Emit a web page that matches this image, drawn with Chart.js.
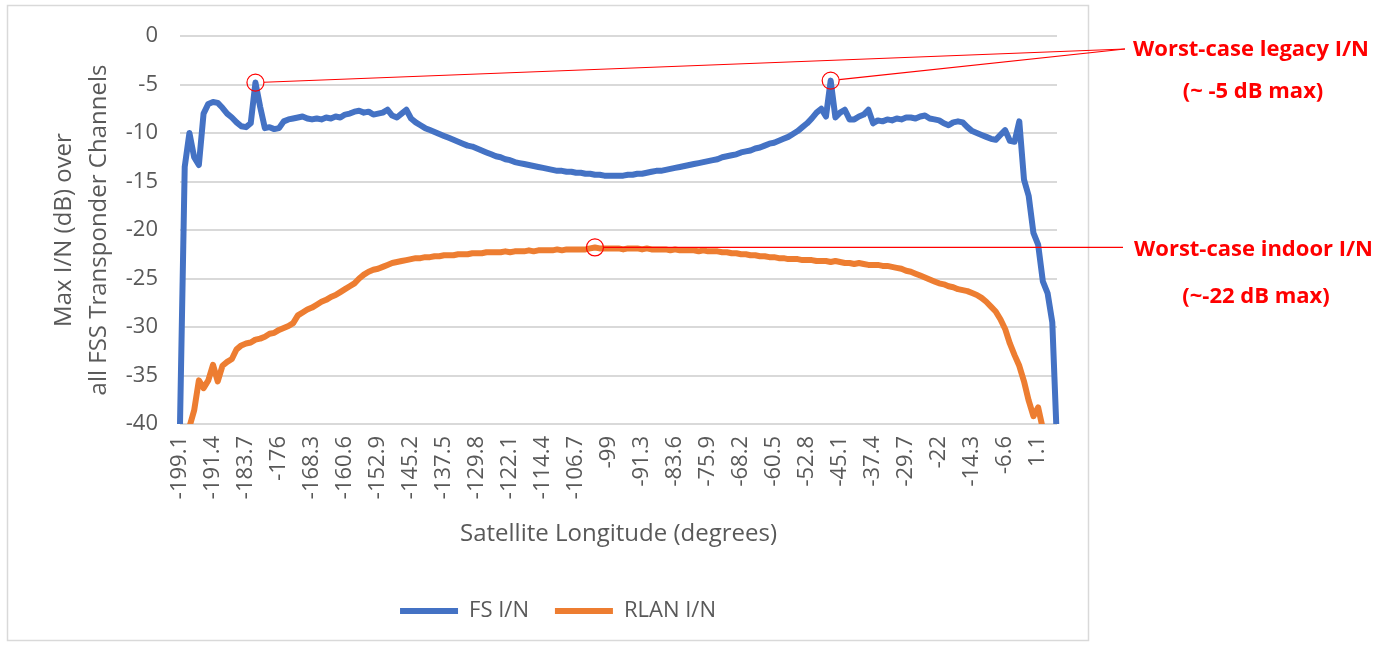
<!DOCTYPE html>
<html>
<head>
<meta charset="utf-8">
<script src="https://cdn.jsdelivr.net/npm/chart.js@4/dist/chart.umd.min.js"></script>
<style>
  html, body { margin: 0; padding: 0; background: #ffffff; }
  #wrap { width: 1391px; height: 646px; }
</style>
</head>
<body>
<div id="wrap"><canvas id="chart" width="1391" height="646"></canvas></div>
<script>
// Satellite longitude grid (degrees) and the labelled ticks along it
const lonStart = -199.1;
const lonStep = 1.1;
const tickEvery = 7;
const tickLabels = ['-199.1', '-191.4', '-183.7', '-176', '-168.3', '-160.6', '-152.9', '-145.2',
  '-137.5', '-129.8', '-122.1', '-114.4', '-106.7', '-99', '-91.3', '-83.6', '-75.9', '-68.2',
  '-60.5', '-52.8', '-45.1', '-37.4', '-29.7', '-22', '-14.3', '-6.6', '1.1'];

// Max I/N (dB) over all FSS transponder channels, FS interference
const fsValues = [
  -40, -13.5, -10.0, -12.5, -13.3, -8.0, -7.0, -6.8, -6.9, -7.4,
  -8.0, -8.4, -8.9, -9.3, -9.4, -9.0, -4.8, -7.3, -9.5, -9.4,
  -9.6, -9.5, -8.8, -8.6, -8.5, -8.4, -8.3, -8.5, -8.6, -8.5,
  -8.6, -8.4, -8.5, -8.3, -8.4, -8.1, -8.0, -7.8, -7.7, -7.9,
  -7.8, -8.1, -8.0, -7.9, -7.6, -8.2, -8.4, -8.0, -7.6, -8.5,
  -8.9, -9.2, -9.5, -9.7, -9.9, -10.1, -10.3, -10.5, -10.7, -10.9,
  -11.1, -11.3, -11.4, -11.6, -11.8, -12.0, -12.2, -12.4, -12.5, -12.7,
  -12.8, -13.0, -13.1, -13.2, -13.3, -13.4, -13.5, -13.6, -13.7, -13.8,
  -13.9, -13.9, -14.0, -14.0, -14.1, -14.1, -14.2, -14.2, -14.3, -14.3,
  -14.4, -14.4, -14.4, -14.4, -14.4, -14.3, -14.3, -14.2, -14.2, -14.1,
  -14.0, -13.9, -13.9, -13.8, -13.7, -13.6, -13.5, -13.4, -13.3, -13.2,
  -13.1, -13.0, -12.9, -12.8, -12.7, -12.5, -12.4, -12.3, -12.2, -12.0,
  -11.9, -11.8, -11.6, -11.5, -11.3, -11.1, -11.0, -10.8, -10.6, -10.4,
  -10.1, -9.8, -9.4, -9.0, -8.5, -7.9, -7.5, -8.3, -4.6, -8.4,
  -7.9, -7.6, -8.6, -8.6, -8.3, -8.1, -7.6, -9.0, -8.7, -8.8,
  -8.6, -8.7, -8.5, -8.6, -8.4, -8.4, -8.5, -8.3, -8.2, -8.5,
  -8.6, -8.7, -9.0, -9.2, -8.9, -8.8, -8.9, -9.4, -9.8, -10.0,
  -10.2, -10.4, -10.6, -10.7, -10.2, -9.7, -10.8, -10.9, -8.8, -14.8,
  -16.5, -20.3, -21.5, -25.3, -26.5, -29.5, -42
];

// Max I/N (dB) over all FSS transponder channels, indoor RLAN interference
const rlanValues = [
  -46, -43, -40.3, -38.6, -35.5, -36.3, -35.5, -33.9, -35.6, -34.0,
  -33.6, -33.3, -32.3, -31.9, -31.7, -31.6, -31.3, -31.2, -31.0, -30.7,
  -30.6, -30.3, -30.1, -29.9, -29.6, -28.8, -28.5, -28.2, -28.0, -27.7,
  -27.4, -27.2, -26.9, -26.7, -26.4, -26.1, -25.8, -25.5, -25.0, -24.6,
  -24.3, -24.1, -24.0, -23.8, -23.6, -23.4, -23.3, -23.2, -23.1, -23.0,
  -22.9, -22.9, -22.8, -22.8, -22.7, -22.7, -22.6, -22.6, -22.6, -22.5,
  -22.5, -22.5, -22.4, -22.4, -22.4, -22.3, -22.3, -22.3, -22.3, -22.2,
  -22.3, -22.2, -22.2, -22.2, -22.1, -22.2, -22.1, -22.1, -22.1, -22.1,
  -22.0, -22.1, -22.0, -22.0, -22.0, -22.0, -22.0, -21.9, -21.8, -21.9,
  -21.9, -21.9, -21.9, -21.9, -22.0, -21.9, -21.9, -21.9, -22.0, -21.9,
  -22.0, -22.0, -22.0, -22.0, -22.1, -22.0, -22.1, -22.1, -22.1, -22.1,
  -22.2, -22.1, -22.2, -22.2, -22.2, -22.3, -22.3, -22.4, -22.4, -22.5,
  -22.5, -22.6, -22.6, -22.7, -22.7, -22.8, -22.8, -22.9, -22.9, -23.0,
  -23.0, -23.0, -23.1, -23.1, -23.1, -23.2, -23.2, -23.2, -23.3, -23.2,
  -23.3, -23.4, -23.4, -23.5, -23.4, -23.5, -23.6, -23.6, -23.6, -23.7,
  -23.7, -23.8, -23.9, -24.0, -24.2, -24.3, -24.5, -24.7, -24.9, -25.1,
  -25.3, -25.5, -25.6, -25.8, -25.9, -26.1, -26.2, -26.3, -26.5, -26.7,
  -27.0, -27.4, -27.9, -28.4, -29.2, -30.2, -31.7, -32.9, -34.0, -35.6,
  -37.6, -39.2, -38.3, -40.5, -43, -45, -47
];

const longitudes = fsValues.map((_, i) => +(lonStart + i * lonStep).toFixed(1));

const FONT = "'Open Sans', 'Noto Sans', sans-serif";
const GREY_TEXT = '#595959';
const GRID = '#d9d9d9';
const NOTE_RED = '#ff0000';
const LINE_W = 6;

function argmax(arr, from, to) {
  let best = from;
  for (let i = from; i <= to; i++) if (arr[i] > arr[best]) best = i;
  return best;
}

// Outer frame and white background
const framePlugin = {
  id: 'frame',
  beforeDraw(chart) {
    const ctx = chart.ctx;
    ctx.save();
    ctx.fillStyle = '#ffffff';
    ctx.fillRect(0, 0, chart.width, chart.height);
    ctx.strokeStyle = GRID;
    ctx.lineWidth = 1.5;
    ctx.strokeRect(7.5, 5.5, 1081, 635);
    ctx.restore();
  }
};

// Red call-outs for the worst-case peaks
const calloutPlugin = {
  id: 'callouts',
  afterDatasetsDraw(chart) {
    const ctx = chart.ctx;
    const xs = chart.scales.x, ys = chart.scales.y;
    const half = Math.floor(fsValues.length / 2);
    const iLeft = argmax(fsValues, 0, half);
    const iRight = argmax(fsValues, half, fsValues.length - 1);
    const iIndoor = argmax(rlanValues, 0, rlanValues.length - 1);
    const r = 8.5;

    const marks = [
      { x: xs.getPixelForValue(iLeft), y: ys.getPixelForValue(fsValues[iLeft]), tx: 1125, ty: 49 },
      { x: xs.getPixelForValue(iRight), y: ys.getPixelForValue(fsValues[iRight]), tx: 1125, ty: 49 },
      { x: xs.getPixelForValue(iIndoor), y: ys.getPixelForValue(rlanValues[iIndoor]), tx: 1123, ty: null }
    ];

    ctx.save();
    ctx.strokeStyle = NOTE_RED;
    ctx.lineWidth = 1.2;
    marks.forEach(m => {
      const ty = m.ty === null ? m.y : m.ty;
      ctx.beginPath();
      ctx.arc(m.x, m.y, r, 0, Math.PI * 2);
      ctx.stroke();
      const dx = m.tx - m.x, dy = ty - m.y;
      const len = Math.hypot(dx, dy);
      ctx.beginPath();
      ctx.moveTo(m.x + dx / len * r, m.y + dy / len * r);
      ctx.lineTo(m.tx, ty);
      ctx.stroke();
    });

    ctx.fillStyle = NOTE_RED;
    ctx.font = `bold 22px ${FONT}`;
    ctx.textBaseline = 'middle';
    ctx.textAlign = 'left';
    ctx.fillText('Worst-case legacy I/N', 1133, 50);
    ctx.fillText('Worst-case indoor I/N', 1134, 250);
    ctx.textAlign = 'center';
    ctx.fillText('(~ -5 dB max)', 1253, 92);
    ctx.fillText('(~-22 dB max)', 1256, 297);
    ctx.restore();
  }
};

new Chart(document.getElementById('chart'), {
  type: 'line',
  data: {
    labels: longitudes,
    datasets: [
      {
        label: 'FS I/N',
        data: fsValues,
        borderColor: '#4472c4',
        backgroundColor: '#4472c4',
        borderWidth: LINE_W,
        borderCapStyle: 'round',
        borderJoinStyle: 'round',
        pointRadius: 0,
        tension: 0,
        clip: { left: 5, right: 5, top: 5, bottom: 0 }
      },
      {
        label: 'RLAN I/N',
        data: rlanValues,
        borderColor: '#ed7d31',
        backgroundColor: '#ed7d31',
        borderWidth: LINE_W,
        borderCapStyle: 'round',
        borderJoinStyle: 'round',
        pointRadius: 0,
        tension: 0,
        clip: { left: 5, right: 5, top: 5, bottom: 0 }
      }
    ]
  },
  options: {
    responsive: false,
    animation: false,
    devicePixelRatio: 1,
    events: [],
    layout: { padding: { left: 59, top: 36, right: 334, bottom: 14 } },
    scales: {
      x: {
        type: 'category',
        grid: { display: false, drawTicks: false },
        border: { display: false },
        ticks: {
          autoSkip: false,
          minRotation: 90,
          maxRotation: 90,
          padding: 12,
          color: GREY_TEXT,
          font: { family: FONT, size: 22 },
          callback: (value, index) => (index % tickEvery === 0 ? tickLabels[index / tickEvery] : '')
        },
        title: {
          display: true,
          text: 'Satellite Longitude (degrees)',
          color: GREY_TEXT,
          font: { family: FONT, size: 24 },
          padding: { top: 0, bottom: 25 }
        },
        afterFit: s => { s.height = 150; }
      },
      y: {
        min: -40,
        max: 0,
        grid: { color: GRID, lineWidth: 2, drawTicks: false },
        border: { display: false },
        ticks: {
          stepSize: 5,
          padding: 22,
          color: GREY_TEXT,
          font: { family: FONT, size: 22 }
        },
        title: {
          display: true,
          text: ['Max I/N (dB) over', 'all FSS Transponder Channels'],
          color: GREY_TEXT,
          font: { family: FONT, size: 24, lineHeight: 1.45 },
          padding: { top: -12, bottom: 0 }
        },
        afterFit: s => { s.width = 121; }
      }
    },
    plugins: {
      legend: {
        position: 'bottom',
        labels: {
          usePointStyle: true,
          pointStyle: 'line',
          pointStyleWidth: 58,
          boxWidth: 58,
          padding: 26,
          color: GREY_TEXT,
          font: { family: FONT, size: 22 }
        }
      },
      tooltip: { enabled: false }
    }
  },
  plugins: [framePlugin, calloutPlugin]
});
</script>
</body>
</html>
